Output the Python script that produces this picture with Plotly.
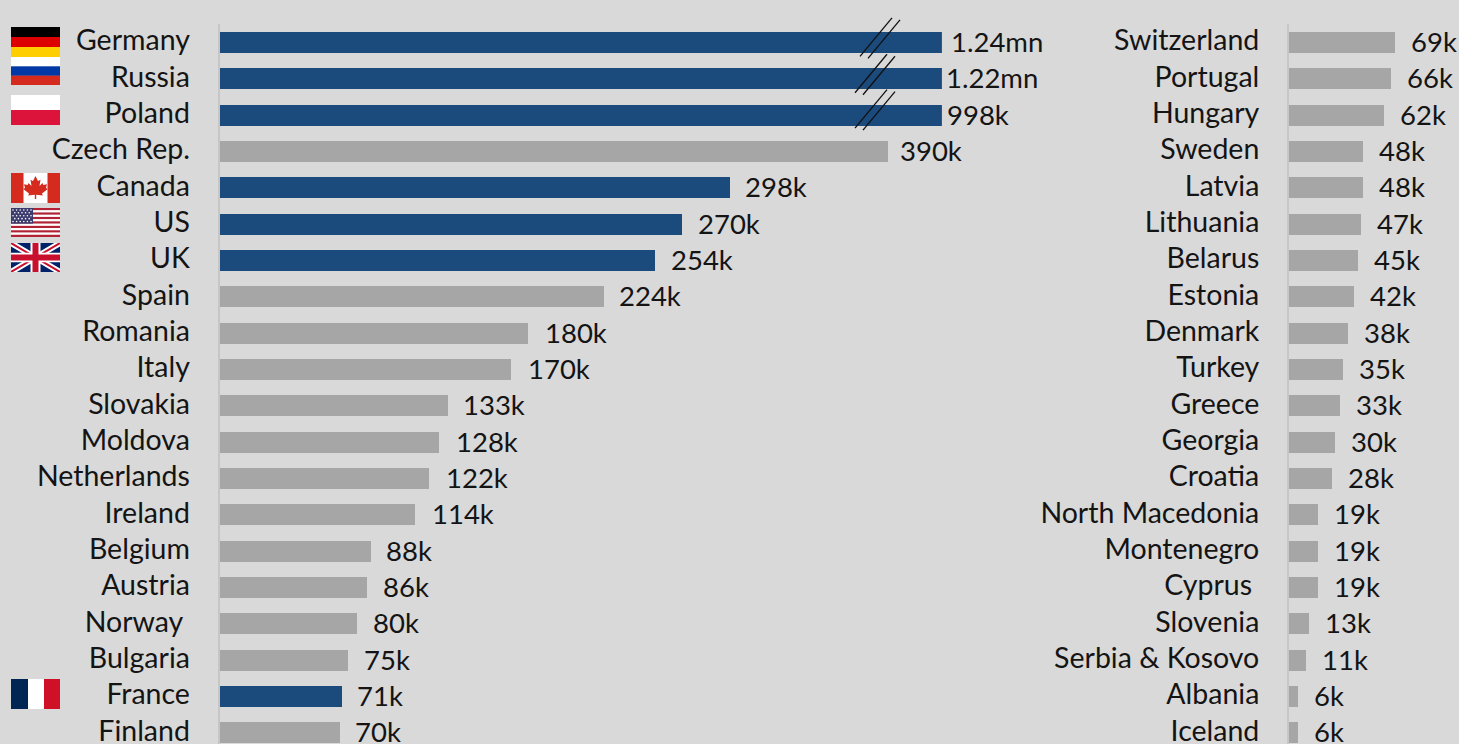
import base64
import plotly.graph_objects as go

W, H = 1459, 744
BG = "#d9d9d9"
BLUE = "#1b4a7c"
GREY = "#a6a6a6"
INK = "#141414"
AXIS = "#c6c6c6"
FONT = "Lato"
FS = 28.5
VFS = 27.5

# ---- data (thousands of people) ----
left_names = ["Germany", "Russia", "Poland", "Czech Rep.", "Canada", "US", "UK", "Spain",
              "Romania", "Italy", "Slovakia", "Moldova", "Netherlands", "Ireland", "Belgium",
              "Austria", "Norway\u00a0", "Bulgaria", "France", "Finland"]
left_values = [1240, 1220, 998, 390, 298, 270, 254, 224, 180, 170, 133, 128, 122, 114, 88, 86, 80, 75, 71, 70]
left_labels = ["1.24mn", "1.22mn", "998k", "390k", "298k", "270k", "254k", "224k", "180k", "170k",
               "133k", "128k", "122k", "114k", "88k", "86k", "80k", "75k", "71k", "70k"]
left_gaps = [7, 2, 3, 10, 13, 14, 14, 14, 15, 15, 14, 15, 15, 15, 14, 14, 14, 14, 14, 13]

right_names = ["Switzerland", "Portugal", "Hungary", "Sweden", "Latvia", "Lithuania", "Belarus", "Estonia",
               "Denmark", "Turkey", "Greece", "Georgia", "Croatia", "North Macedonia", "Montenegro",
               "Cyprus\u00a0", "Slovenia", "Serbia & Kosovo", "Albania", "Iceland"]
right_values = [69, 66, 62, 48, 48, 47, 45, 42, 38, 35, 33, 30, 28, 19, 19, 19, 13, 11, 6, 6]
right_labels = ["69k", "66k", "62k", "48k", "48k", "47k", "45k", "42k", "38k", "35k", "33k", "30k", "28k",
                "19k", "19k", "19k", "13k", "11k", "6k", "6k"]

highlighted = {"Germany", "Russia", "Poland", "Canada", "US", "UK", "France"}
AXIS_BREAK = 421.7   # left axis is cut here; larger bars run to the edge and get break marks
RIGHT_MAX = 110.4

# ---- layout constants (px) ----
L_X0, L_X1 = 219.6, 941.9
R_X0, R_X1 = 1289, 1459
TOP, BOTTOM = 24, 744
ROW0, STEP = 42.4, 36.33
Y_RANGE = [(BOTTOM - ROW0) / STEP, (TOP - ROW0) / STEP]
BAR_W = 21 / STEP


def px(x):
    return x / W


def py(y):
    return 1 - y / H


# ---- flags ----
def svg(body, w=49, h=30):
    s = f'<svg xmlns="http://www.w3.org/2000/svg" viewBox="0 0 {w} {h}" preserveAspectRatio="none">{body}</svg>'
    return "data:image/svg+xml;base64," + base64.b64encode(s.encode()).decode()


def stripes(cols, w=49, h=30):
    n = len(cols)
    return "".join(f'<rect y="{i*h/n}" width="{w}" height="{h/n+0.2}" fill="{c}"/>' for i, c in enumerate(cols))


def us():
    st = ["#b22234", "#ffffff"] * 6 + ["#b22234"]
    b = stripes(st)
    b += '<rect width="22" height="16.2" fill="#3c3b6e"/>'
    for r in range(5):
        for c in range(6 if r % 2 == 0 else 5):
            b += f'<circle cx="{2+c*3.6+(0 if r%2==0 else 1.8):.1f}" cy="{2+r*3:.1f}" r="0.8" fill="#fff"/>'
    return b


def uk():
    return ('<rect width="49" height="30" fill="#012169"/>'
            '<path d="M0 0L49 30M49 0L0 30" stroke="#fff" stroke-width="6"/>'
            '<path d="M0 0L49 30M49 0L0 30" stroke="#c8102e" stroke-width="2"/>'
            '<path d="M24.5 0V30M0 15H49" stroke="#fff" stroke-width="10"/>'
            '<path d="M24.5 0V30M0 15H49" stroke="#c8102e" stroke-width="6"/>')


def canada():
    leaf = ("24.5,3 27,8 29.5,6.8 28.5,13 31.5,10 32.3,12 36,11.3 35,15 36.8,16 31,20.5 31.8,22.5 "
            "25.2,21.7 25.2,26 23.8,26 23.8,21.7 17.2,22.5 18,20.5 12.2,16 14,15 13,11.3 16.7,12 "
            "17.5,10 20.5,13 19.5,6.8 22,8")
    return ('<rect width="49" height="30" fill="#fff"/>'
            '<rect width="12.5" height="30" fill="#d52b1e"/><rect x="36.5" width="12.5" height="30" fill="#d52b1e"/>'
            f'<polygon points="{leaf}" fill="#d52b1e"/>')


def france():
    return ('<rect width="17" height="30" fill="#002654"/><rect x="17" width="16" height="30" fill="#fff"/>'
            '<rect x="33" width="16" height="30" fill="#ce1126"/>')


flags = [
    (27, 30, stripes(["#000000", "#dd0000", "#ffce00"])),
    (57, 28, stripes(["#ffffff", "#0039a6", "#d52b1e"])),
    (95, 30, stripes(["#ffffff", "#dc143c"])),
    (173, 30, canada()),
    (208, 29, us()),
    (243, 29, uk()),
    (679, 30, france()),
]
images = [dict(source=svg(b), xref="paper", yref="paper", x=px(11), y=py(t), sizex=49 / W, sizey=h / H,
               xanchor="left", yanchor="top", sizing="stretch", layer="above") for t, h, b in flags]

# ---- traces ----
fig = go.Figure()
fig.add_trace(go.Bar(
    x=[min(v, AXIS_BREAK) for v in left_values], y=left_names, orientation="h", width=BAR_W,
    marker=dict(color=[BLUE if n in highlighted else GREY for n in left_names], line_width=0),
    customdata=left_values, hoverinfo="skip", xaxis="x", yaxis="y", showlegend=False))
fig.add_trace(go.Bar(
    x=right_values, y=right_names, orientation="h", width=BAR_W,
    marker=dict(color=GREY, line_width=0), hoverinfo="skip", xaxis="x2", yaxis="y2", showlegend=False))

annotations = []
for n, v, t, g in zip(left_names, left_values, left_labels, left_gaps):
    annotations.append(dict(x=min(v, AXIS_BREAK), y=n, xref="x", yref="y", text=t, showarrow=False,
                            xanchor="left", xshift=g, yshift=1, font=dict(family=FONT, size=VFS, color=INK)))
for n, v, t in zip(right_names, right_values, right_labels):
    annotations.append(dict(x=v, y=n, xref="x2", yref="y2", text=t, showarrow=False,
                            xanchor="left", xshift=14, yshift=1, font=dict(family=FONT, size=VFS, color=INK)))

# break marks on the three cut bars
break_offsets = [(860, 0), (855, 0), (855, -1)]
shapes = []
for i, (bx, dy) in enumerate(break_offsets):
    cy = ROW0 + i * STEP + dy
    for ox, oy in [(0, 0), (8, 2)]:
        shapes.append(dict(type="line", xref="paper", yref="paper",
                           x0=px(bx + ox), y0=py(cy + 14 + oy), x1=px(bx + ox + 32), y1=py(cy - 24.5 + oy),
                           line=dict(color="#111111", width=1.3), layer="above"))


def yax(anchor):
    return dict(domain=[py(BOTTOM), py(TOP)], range=Y_RANGE, type="category", categoryorder="array",
                anchor=anchor, showgrid=False, zeroline=False, showline=True, linecolor=AXIS, linewidth=2,
                ticks="", ticklabelstandoff=22, ticklabelshift=2, automargin=False,
                tickfont=dict(family=FONT, size=FS, color=INK))


y1 = yax("x"); y1["categoryarray"] = left_names
y2 = yax("x2"); y2["categoryarray"] = right_names

fig.update_layout(
    width=W, height=H, autosize=False, margin=dict(l=0, r=0, t=0, b=0, pad=0),
    paper_bgcolor=BG, plot_bgcolor=BG, showlegend=False, bargap=0,
    xaxis=dict(domain=[px(L_X0), px(L_X1)], range=[0, AXIS_BREAK], visible=False, anchor="y", automargin=False),
    xaxis2=dict(domain=[px(R_X0), px(R_X1)], range=[0, RIGHT_MAX], visible=False, anchor="y2", automargin=False),
    yaxis=y1, yaxis2=y2, annotations=annotations, shapes=shapes, images=images,
)

fig.write_html("out.html", config=dict(displayModeBar=False),
               post_script="document.documentElement.style.overflow='hidden';"
                           "document.body.style.margin='0';document.body.style.background='#d9d9d9';")
